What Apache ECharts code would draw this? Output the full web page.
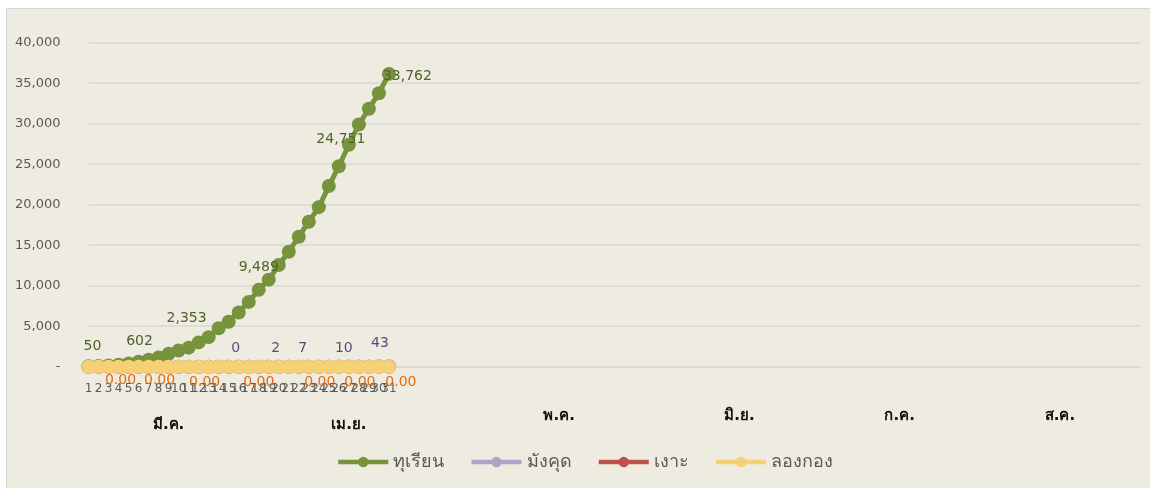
<!DOCTYPE html>
<html>
<head>
<meta charset="utf-8">
<script src="https://cdn.jsdelivr.net/npm/echarts@6/dist/echarts.min.js"></script>
<style>
  html, body { margin: 0; padding: 0; background: #ffffff; }
  #bg { position: absolute; left: 6px; top: 8px; width: 1150px; height: 488px;
        background: #eeebe0; border-top: 1px solid #d6d6d6; border-left: 1px solid #d6d6d6; }
  #chart { position: absolute; left: 0; top: 0; width: 1150px; height: 488px; }
</style>
</head>
<body>
<div id="bg"></div>
<div id="chart"></div>
<script>
// ---- data ----
const seriesNames = ['ทุเรียน', 'มังคุด', 'เงาะ', 'ลองกอง'];
const days = ['1','2','3','4','5','6','7','8','9','10','11','12','13','14','15','16',
              '17','18','19','20','21','22','23','24','25','26','27','28','29','30','31'];
const months = ['มี.ค.', 'เม.ย.', 'พ.ค.', 'มิ.ย.', 'ก.ค.', 'ส.ค.'];
const monthSlot = [8, 26, 47, 65, 81, 97];   // category index where each month label sits
const slotCount = 106;                        // number of category slots on the axis
const durian = [50, 90, 150, 250, 400, 602, 850, 1150, 1600, 2000, 2353, 3000, 3650, 4750,
                5550, 6700, 8000, 9489, 10750, 12550, 14200, 16050, 17900, 19700, 22300,
                24751, 27400, 29900, 31850, 33762, 36150];
const mangosteen = [0, 0, 0, 0, 0, 0, 0, 0, 0, 0, 0, 0, 0, 0, 0, 0, 0, 0, 0, 2, 4, 7, 8, 9, 9,
                    10, 18, 25, 33, 43, 48];
const rambutan = [0, 0, 0, 0, 0, 0, 0, 0, 0, 0, 0, 0, 0, 0, 0, 0, 0, 0, 0, 0, 0, 0, 0, 0, 0,
                  0, 0, 0, 0, 0, 0];
const longkong = [0, 0, 0, 0, 0, 0, 0, 0, 0, 0, 0, 0, 0, 0, 0, 0, 0, 0, 0, 0, 0, 0, 0, 0, 0,
                  0, 0, 0, 0, 0, 0];
const durianLabelAt = [0, 5, 10, 17, 25, 29];
const mangosteenLabelAt = [15, 19, 21, 25, 29];
const longkongLabelAt = [3, 7, 12, 17, 23, 27, 30];
const yTicks = { min: 0, max: 40000, step: 5000 };

// ---- build ----
const FONT = '"DejaVu Sans", "Noto Sans", sans-serif';
const dayCats = [];
const monthCats = [];
for (let i = 0; i < slotCount; i++) { dayCats.push(i < days.length ? days[i] : ''); monthCats.push(''); }
const monthFirstRow = {};
months.forEach((m, k) => { monthCats[monthSlot[k]] = m; monthFirstRow[m] = k < 2; });

const durianLabelStyle = {
  0: { position: 'top', distance: 6, offset: [4, 0] },
  5: { position: 'top', distance: 6, offset: [1, 0] },
  10: { position: 'top', distance: 15, offset: [-2, 0] },
  17: { position: 'top', distance: 8, offset: [0, 0] },
  25: { position: 'top', distance: 13, offset: [2, 0] },
  29: { position: 'right', distance: 0, offset: [-3, -17] }
};
const mangoLabelStyle = {
  15: [-3, 0], 19: [-3, 0], 21: [4, 0], 25: [5, 0], 29: [1, -5]
};
const longLabelStyle = {
  3: [2, -2], 7: [1, -2], 12: [-4, 0], 17: [0, 0], 23: [1, 0], 27: [1, 0], 30: [12, 0]
};

function withLabels(values, idxList, makeLabel) {
  return values.map((v, i) => idxList.indexOf(i) >= 0 ? { value: v, label: makeLabel(i, v) } : v);
}
const fmt = v => v.toLocaleString('en-US');

const durianData = withLabels(durian, durianLabelAt, (i) => Object.assign({
  show: true, color: '#4f6228', fontSize: 14, fontFamily: FONT,
  formatter: p => fmt(p.value)
}, durianLabelStyle[i]));
const mangoData = withLabels(mangosteen, mangosteenLabelAt, (i) => ({
  show: true, position: 'top', distance: 4, offset: mangoLabelStyle[i],
  color: '#5f497a', fontSize: 14, fontFamily: FONT, formatter: p => fmt(p.value)
}));
const longData = withLabels(longkong, longkongLabelAt, (i) => ({
  show: true, position: 'bottom', distance: 2, offset: longLabelStyle[i],
  color: '#e46c0a', fontSize: 14, fontFamily: FONT, formatter: p => p.value.toFixed(2)
}));

function lineSeries(name, data, color, z) {
  return {
    name, type: 'line', data, xAxisIndex: 0, z,
    symbol: 'circle', symbolSize: 14, showSymbol: true,
    lineStyle: { color, width: 5 },
    itemStyle: { color, borderWidth: 0 },
    emphasis: { disabled: true },
    animation: false
  };
}

const chart = echarts.init(document.getElementById('chart'), null, { renderer: 'canvas' });
chart.setOption({
  backgroundColor: 'transparent',
  animation: false,
  grid: { left: 88.5, right: 10, top: 42.7, bottom: 121.3, containLabel: false },
  legend: {
    data: seriesNames, bottom: 12, left: 331,
    itemWidth: 50, itemHeight: 13, itemGap: 25,
    lineStyle: { width: 4.5 },
    textStyle: { fontSize: 18, color: '#595959', fontFamily: FONT }
  },
  xAxis: [
    {
      type: 'category', data: dayCats, boundaryGap: false,
      axisLine: { show: true, lineStyle: { color: '#d9d9d9', width: 1.5 } },
      axisTick: { show: false },
      axisLabel: { interval: 0, hideOverlap: false, margin: 16, fontSize: 12,
                   color: '#595959', fontFamily: FONT },
      splitLine: { show: false }
    },
    {
      type: 'category', data: monthCats, boundaryGap: false, position: 'bottom',
      axisLine: { show: false }, axisTick: { show: false },
      axisLabel: {
        interval: 0, hideOverlap: false, margin: 42, fontSize: 15, color: '#111111',
        fontFamily: FONT, fontWeight: 'bold',
        formatter: v => v ? (monthFirstRow[v] ? '{lo|' + v + '}' : '{hi|' + v + '}') : '',
        rich: {
          lo: { fontSize: 15, fontWeight: 'bold', color: '#111111', padding: [9, 0, 0, 0], fontFamily: FONT },
          hi: { fontSize: 15, fontWeight: 'bold', color: '#111111', padding: [0, 0, 0, 0], fontFamily: FONT }
        }
      }
    }
  ],
  yAxis: {
    type: 'value', min: yTicks.min, max: yTicks.max, interval: yTicks.step,
    axisLine: { show: false }, axisTick: { show: false },
    axisLabel: { margin: 28, fontSize: 13, color: '#595959', fontFamily: FONT,
                 formatter: v => v === 0 ? '-' : fmt(v) },
    splitLine: { show: true, lineStyle: { color: '#d9d9d9', width: 1.5 } }
  },
  series: [
    lineSeries(seriesNames[0], durianData, '#77933c', 2),
    lineSeries(seriesNames[1], mangoData, '#b3a2c7', 3),
    lineSeries(seriesNames[2], rambutan, '#c0504d', 4),
    lineSeries(seriesNames[3], longData, '#f5d075', 5)
  ]
});
</script>
</body>
</html>
